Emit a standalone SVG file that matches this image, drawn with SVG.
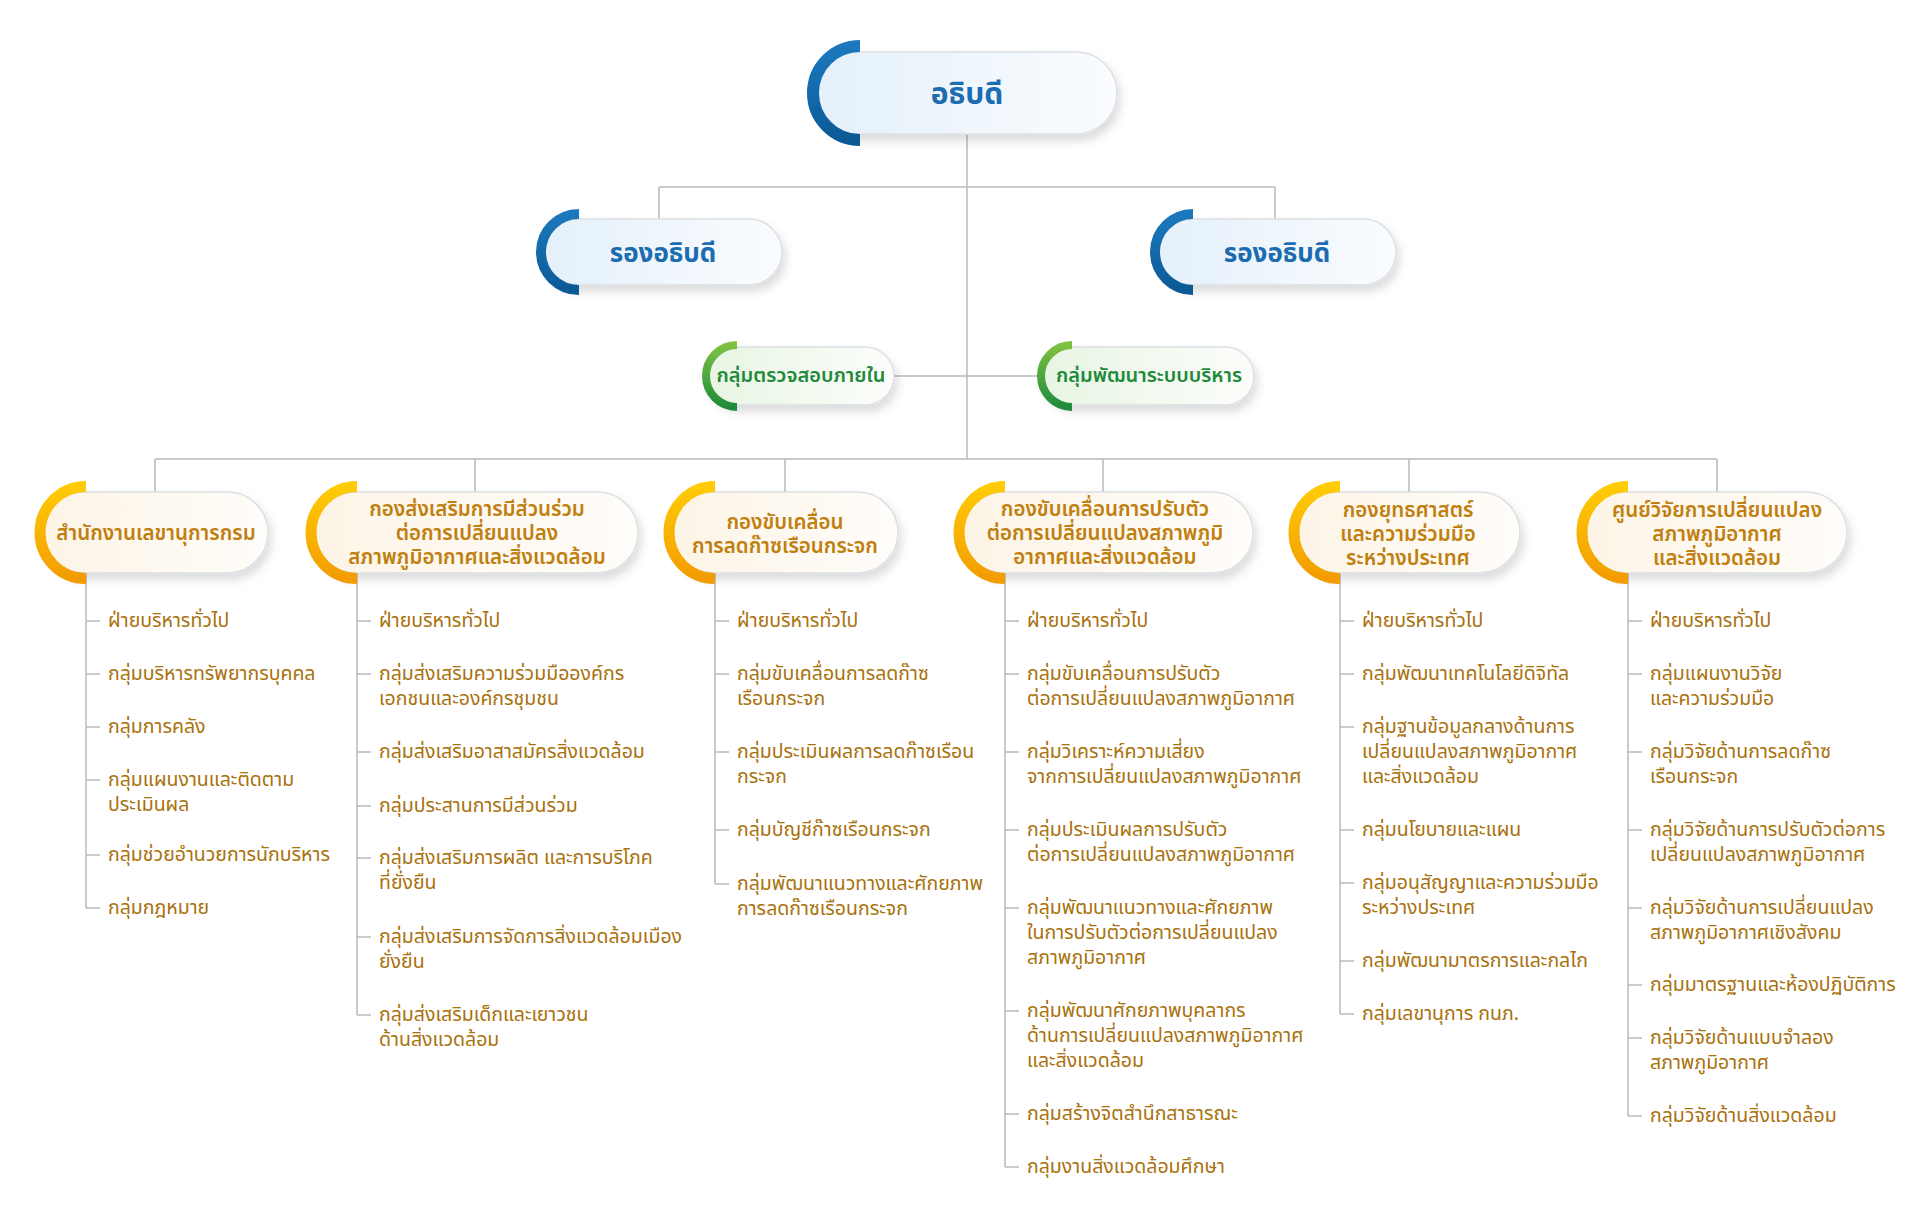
<svg xmlns="http://www.w3.org/2000/svg" width="1920" height="1211" viewBox="0 0 1920 1211">
<defs>
<linearGradient id="gBlueArc" x1="0" y1="0" x2="0" y2="1"><stop offset="0" stop-color="#1c78be"/><stop offset="1" stop-color="#0b5a96"/></linearGradient>
<linearGradient id="gGreenArc" x1="0" y1="0" x2="0" y2="1"><stop offset="0" stop-color="#7dc242"/><stop offset="1" stop-color="#1f8b3b"/></linearGradient>
<linearGradient id="gOrangeArc" x1="0" y1="0" x2="0" y2="1"><stop offset="0" stop-color="#ffcb05"/><stop offset="1" stop-color="#f39c00"/></linearGradient>
<linearGradient id="gBlueFill" x1="0" y1="0" x2="1" y2="0"><stop offset="0" stop-color="#e4f0fa"/><stop offset="1" stop-color="#fafcfe"/></linearGradient>
<linearGradient id="gGreenFill" x1="0" y1="0" x2="1" y2="0"><stop offset="0" stop-color="#e8f5e3"/><stop offset="1" stop-color="#fcfdfb"/></linearGradient>
<linearGradient id="gOrangeFill" x1="0" y1="0" x2="1" y2="0"><stop offset="0" stop-color="#fcf4e6"/><stop offset="1" stop-color="#fffdfa"/></linearGradient>
<filter id="sh" x="-10%" y="-20%" width="125%" height="160%"><feDropShadow dx="3" dy="6" stdDeviation="5" flood-color="#000" flood-opacity="0.14"/></filter>
</defs>
<style>
text{font-family:"Noto Sans Thai","Noto Sans Thai UI","Noto Sans",sans-serif}
.pill{stroke:#dcdfe3;stroke-width:1.5;filter:url(#sh)}
.pb{fill:url(#gBlueFill)}
.pg{fill:url(#gGreenFill)}
.po{fill:url(#gOrangeFill)}
.ab{fill:none;stroke:url(#gBlueArc)}
.ag{fill:none;stroke:url(#gGreenArc)}
.ao{fill:none;stroke:url(#gOrangeArc)}
.tb{fill:#1b6cb0;font-weight:700;text-anchor:middle}
.tg{fill:#1f8a3b;font-weight:600;font-size:20px;text-anchor:middle}
.to{fill:#c07f0f;font-weight:600;font-size:20.5px;text-anchor:middle}
.li{fill:#a9710c;font-size:19.5px}
.ln{fill:none;stroke:#b7bbc1;stroke-width:1.5}
</style>
<g id="connectors" class="ln">
<path d="M967 134V459M659 187H1275M659 187V219M1275 187V219M894 376H1042M155 459H1717M155 459V492M475 459V492M785 459V492M1103 459V492M1409 459V492M1717 459V492"/>
<path d="M86 573V908M86 621h14M86 674h14M86 727h14M86 780h14M86 855h14M86 908h14"/>
<path d="M357 573V1015M357 621h14M357 674h14M357 752h14M357 806h14M357 858h14M357 937h14M357 1015h14"/>
<path d="M715 573V884M715 621h14M715 674h14M715 752h14M715 830h14M715 884h14"/>
<path d="M1005 573V1167M1005 621h14M1005 674h14M1005 752h14M1005 830h14M1005 908h14M1005 1011h14M1005 1114h14M1005 1167h14"/>
<path d="M1340 573V1014M1340 621h14M1340 674h14M1340 727h14M1340 830h14M1340 883h14M1340 961h14M1340 1014h14"/>
<path d="M1628 573V1116M1628 621h14M1628 674h14M1628 752h14M1628 830h14M1628 908h14M1628 985h14M1628 1038h14M1628 1116h14"/>
</g>
<g id="n-director">
<rect class="pill pb" x="817" y="52" width="300" height="82" rx="41"/>
<path class="ab" stroke-width="12" d="M860 46A47 47 0 0 0 860 140"/>
<text class="tb" x="967" y="104" font-size="30">อธิบดี</text>
</g>
<g id="n-deputy1">
<rect class="pill pb" x="545" y="219" width="237" height="66" rx="33"/>
<path class="ab" stroke-width="10" d="M579 214A38 38 0 0 0 579 290"/>
<text class="tb" x="663" y="262" font-size="26">รองอธิบดี</text>
</g>
<g id="n-deputy2">
<rect class="pill pb" x="1159" y="219" width="237" height="66" rx="33"/>
<path class="ab" stroke-width="10" d="M1193 214A38 38 0 0 0 1193 290"/>
<text class="tb" x="1277" y="262" font-size="26">รองอธิบดี</text>
</g>
<g id="n-audit">
<rect class="pill pg" x="707" y="347" width="187" height="58" rx="29"/>
<path class="ag" stroke-width="8" d="M737 345A31 31 0 0 0 737 407"/>
<text class="tg" x="801" y="382">กลุ่มตรวจสอบภายใน</text>
</g>
<g id="n-psd">
<rect class="pill pg" x="1042" y="347" width="212" height="58" rx="29"/>
<path class="ag" stroke-width="8" d="M1072 345A31 31 0 0 0 1072 407"/>
<text class="tg" x="1149" y="382">กลุ่มพัฒนาระบบบริหาร</text>
</g>
<g id="n-sec">
<rect class="pill po" x="43" y="492" width="225" height="81" rx="40.5"/>
<path class="ao" stroke-width="11" d="M86 486.5A46 46 0 0 0 86 578.5"/>
<text class="to" x="156" y="540">สำนักงานเลขานุการกรม</text>
</g>
<g id="n-part">
<rect class="pill po" x="315" y="492" width="323" height="81" rx="40.5"/>
<path class="ao" stroke-width="11" d="M357 486.5A46 46 0 0 0 357 578.5"/>
<text class="to" x="477"><tspan x="477" y="516">กองส่งเสริมการมีส่วนร่วม</tspan><tspan x="477" y="540">ต่อการเปลี่ยนแปลง</tspan><tspan x="477" y="564">สภาพภูมิอากาศและสิ่งแวดล้อม</tspan></text>
</g>
<g id="n-ghg">
<rect class="pill po" x="672" y="492" width="226" height="81" rx="40.5"/>
<path class="ao" stroke-width="11" d="M715 486.5A46 46 0 0 0 715 578.5"/>
<text class="to" x="785"><tspan x="785" y="529">กองขับเคลื่อน</tspan><tspan x="785" y="553">การลดก๊าซเรือนกระจก</tspan></text>
</g>
<g id="n-adapt">
<rect class="pill po" x="963" y="492" width="290" height="81" rx="40.5"/>
<path class="ao" stroke-width="11" d="M1005 486.5A46 46 0 0 0 1005 578.5"/>
<text class="to" x="1105"><tspan x="1105" y="516">กองขับเคลื่อนการปรับตัว</tspan><tspan x="1105" y="540">ต่อการเปลี่ยนแปลงสภาพภูมิ</tspan><tspan x="1105" y="564">อากาศและสิ่งแวดล้อม</tspan></text>
</g>
<g id="n-strategy">
<rect class="pill po" x="1297" y="492" width="223" height="81" rx="40.5"/>
<path class="ao" stroke-width="11" d="M1340 486.5A46 46 0 0 0 1340 578.5"/>
<text class="to" x="1408"><tspan x="1408" y="517">กองยุทธศาสตร์</tspan><tspan x="1408" y="541">และความร่วมมือ</tspan><tspan x="1408" y="565">ระหว่างประเทศ</tspan></text>
</g>
<g id="n-research">
<rect class="pill po" x="1585" y="492" width="262" height="81" rx="40.5"/>
<path class="ao" stroke-width="11" d="M1628 486.5A46 46 0 0 0 1628 578.5"/>
<text class="to" x="1717"><tspan x="1717" y="517">ศูนย์วิจัยการเปลี่ยนแปลง</tspan><tspan x="1717" y="541">สภาพภูมิอากาศ</tspan><tspan x="1717" y="565">และสิ่งแวดล้อม</tspan></text>
</g>
<g id="list-sec" class="li">
<text x="108" y="627">ฝ่ายบริหารทั่วไป</text>
<text x="108" y="680">กลุ่มบริหารทรัพยากรบุคคล</text>
<text x="108" y="733">กลุ่มการคลัง</text>
<text x="108" y="786">กลุ่มแผนงานและติดตาม<tspan x="108" dy="25">ประเมินผล</tspan></text>
<text x="108" y="861">กลุ่มช่วยอำนวยการนักบริหาร</text>
<text x="108" y="914">กลุ่มกฎหมาย</text>
</g>
<g id="list-part" class="li">
<text x="379" y="627">ฝ่ายบริหารทั่วไป</text>
<text x="379" y="680">กลุ่มส่งเสริมความร่วมมือองค์กร<tspan x="379" dy="25">เอกชนและองค์กรชุมชน</tspan></text>
<text x="379" y="758">กลุ่มส่งเสริมอาสาสมัครสิ่งแวดล้อม</text>
<text x="379" y="812">กลุ่มประสานการมีส่วนร่วม</text>
<text x="379" y="864">กลุ่มส่งเสริมการผลิต และการบริโภค<tspan x="379" dy="25">ที่ยั่งยืน</tspan></text>
<text x="379" y="943">กลุ่มส่งเสริมการจัดการสิ่งแวดล้อมเมือง<tspan x="379" dy="25">ยั่งยืน</tspan></text>
<text x="379" y="1021">กลุ่มส่งเสริมเด็กและเยาวชน<tspan x="379" dy="25">ด้านสิ่งแวดล้อม</tspan></text>
</g>
<g id="list-ghg" class="li">
<text x="737" y="627">ฝ่ายบริหารทั่วไป</text>
<text x="737" y="680">กลุ่มขับเคลื่อนการลดก๊าซ<tspan x="737" dy="25">เรือนกระจก</tspan></text>
<text x="737" y="758">กลุ่มประเมินผลการลดก๊าซเรือน<tspan x="737" dy="25">กระจก</tspan></text>
<text x="737" y="836">กลุ่มบัญชีก๊าซเรือนกระจก</text>
<text x="737" y="890">กลุ่มพัฒนาแนวทางและศักยภาพ<tspan x="737" dy="25">การลดก๊าซเรือนกระจก</tspan></text>
</g>
<g id="list-adapt" class="li">
<text x="1027" y="627">ฝ่ายบริหารทั่วไป</text>
<text x="1027" y="680">กลุ่มขับเคลื่อนการปรับตัว<tspan x="1027" dy="25">ต่อการเปลี่ยนแปลงสภาพภูมิอากาศ</tspan></text>
<text x="1027" y="758">กลุ่มวิเคราะห์ความเสี่ยง<tspan x="1027" dy="25">จากการเปลี่ยนแปลงสภาพภูมิอากาศ</tspan></text>
<text x="1027" y="836">กลุ่มประเมินผลการปรับตัว<tspan x="1027" dy="25">ต่อการเปลี่ยนแปลงสภาพภูมิอากาศ</tspan></text>
<text x="1027" y="914">กลุ่มพัฒนาแนวทางและศักยภาพ<tspan x="1027" dy="25">ในการปรับตัวต่อการเปลี่ยนแปลง</tspan><tspan x="1027" dy="25">สภาพภูมิอากาศ</tspan></text>
<text x="1027" y="1017">กลุ่มพัฒนาศักยภาพบุคลากร<tspan x="1027" dy="25">ด้านการเปลี่ยนแปลงสภาพภูมิอากาศ</tspan><tspan x="1027" dy="25">และสิ่งแวดล้อม</tspan></text>
<text x="1027" y="1120">กลุ่มสร้างจิตสำนึกสาธารณะ</text>
<text x="1027" y="1173">กลุ่มงานสิ่งแวดล้อมศึกษา</text>
</g>
<g id="list-strategy" class="li">
<text x="1362" y="627">ฝ่ายบริหารทั่วไป</text>
<text x="1362" y="680">กลุ่มพัฒนาเทคโนโลยีดิจิทัล</text>
<text x="1362" y="733">กลุ่มฐานข้อมูลกลางด้านการ<tspan x="1362" dy="25">เปลี่ยนแปลงสภาพภูมิอากาศ</tspan><tspan x="1362" dy="25">และสิ่งแวดล้อม</tspan></text>
<text x="1362" y="836">กลุ่มนโยบายและแผน</text>
<text x="1362" y="889">กลุ่มอนุสัญญาและความร่วมมือ<tspan x="1362" dy="25">ระหว่างประเทศ</tspan></text>
<text x="1362" y="967">กลุ่มพัฒนามาตรการและกลไก</text>
<text x="1362" y="1020">กลุ่มเลขานุการ กนภ.</text>
</g>
<g id="list-research" class="li">
<text x="1650" y="627">ฝ่ายบริหารทั่วไป</text>
<text x="1650" y="680">กลุ่มแผนงานวิจัย<tspan x="1650" dy="25">และความร่วมมือ</tspan></text>
<text x="1650" y="758">กลุ่มวิจัยด้านการลดก๊าซ<tspan x="1650" dy="25">เรือนกระจก</tspan></text>
<text x="1650" y="836">กลุ่มวิจัยด้านการปรับตัวต่อการ<tspan x="1650" dy="25">เปลี่ยนแปลงสภาพภูมิอากาศ</tspan></text>
<text x="1650" y="914">กลุ่มวิจัยด้านการเปลี่ยนแปลง<tspan x="1650" dy="25">สภาพภูมิอากาศเชิงสังคม</tspan></text>
<text x="1650" y="991">กลุ่มมาตรฐานและห้องปฏิบัติการ</text>
<text x="1650" y="1044">กลุ่มวิจัยด้านแบบจำลอง<tspan x="1650" dy="25">สภาพภูมิอากาศ</tspan></text>
<text x="1650" y="1122">กลุ่มวิจัยด้านสิ่งแวดล้อม</text>
</g>
</svg>
